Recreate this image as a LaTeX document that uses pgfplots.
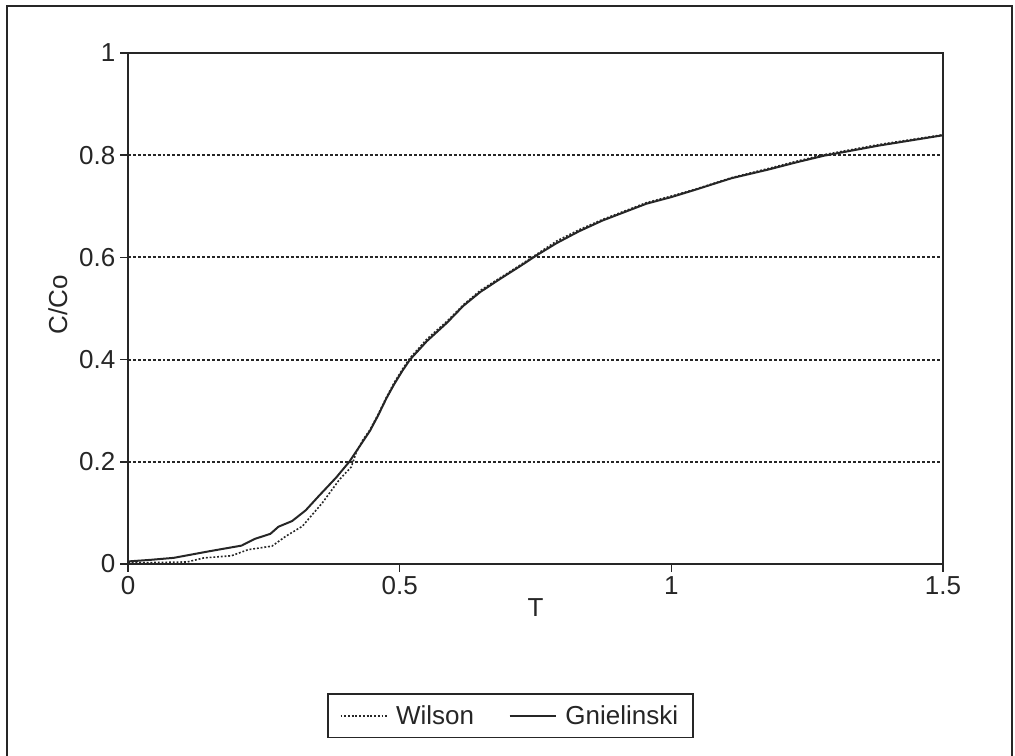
\documentclass[border=0pt]{standalone}
\usepackage{fontspec}
\setmainfont{Liberation Sans}
\usepackage{pgfplots}
\pgfplotsset{compat=1.18}

% Breakthrough curves, C/Co against T
\pgfplotstableread{
T      C
0      0.005
0.04   0.008
0.084  0.012
0.15   0.025
0.209  0.036
0.233  0.049
0.262  0.059
0.277  0.073
0.302  0.084
0.327  0.105
0.352  0.134
0.383  0.169
0.408  0.201
0.433  0.241
0.445  0.260
0.460  0.290
0.476  0.325
0.490  0.352
0.505  0.378
0.519  0.400
0.550  0.436
0.587  0.472
0.617  0.505
0.648  0.532
0.685  0.558
0.722  0.583
0.752  0.604
0.789  0.628
0.830  0.651
0.873  0.672
0.954  0.705
1.000  0.718
1.043  0.732
1.111  0.755
1.179  0.772
1.230  0.786
1.281  0.799
1.383  0.819
1.500  0.839
}\gnielinski

\pgfplotstableread{
T      C
0      0.002
0.109  0.004
0.140  0.012
0.190  0.016
0.221  0.028
0.265  0.035
0.290  0.054
0.321  0.074
0.358  0.120
0.389  0.165
0.411  0.190
0.420  0.218
0.433  0.244
0.445  0.262
0.460  0.292
0.476  0.327
0.490  0.355
0.505  0.381
0.519  0.403
0.550  0.440
0.587  0.475
0.617  0.507
0.648  0.535
0.685  0.560
0.722  0.585
0.752  0.606
0.789  0.632
0.830  0.654
0.873  0.674
0.954  0.707
1.000  0.720
1.043  0.733
1.111  0.756
1.179  0.774
1.230  0.788
1.281  0.801
1.383  0.821
1.500  0.840
}\wilson

\definecolor{ink}{gray}{0.15}

\begin{document}
\begin{tikzpicture}
\useasboundingbox (0,0) rectangle (761.25pt,567pt);
% outer frame
\draw[ink, line width=1.5pt] (5.25pt,-5pt) -- (5.25pt,562.5pt) -- (759pt,562.5pt) -- (759pt,-5pt);
\begin{axis}[
  at={(96pt,144pt)}, anchor=south west,
  width=611.25pt, height=383.25pt, scale only axis,
  xmin=0, xmax=1.5, ymin=0, ymax=1,
  xtick={0,0.5,1,1.5}, xticklabels={0,0.5,1,1.5},
  ytick={0,0.2,0.4,0.6,0.8,1}, yticklabels={0,0.2,0.4,0.6,0.8,1},
  tick pos=left, tick align=outside, major tick length=6pt,
  every tick/.style={ink, line width=1.2pt},
  axis line style={ink, line width=1.5pt},
  ymajorgrids,
  grid style={ink, line width=1.5pt, dash pattern=on 2.2pt off 1.5pt},
  font=\fontsize{19.5}{23}\selectfont,
  tick label style={ink},
  /pgf/number format/assume math mode=true,
  xlabel={T}, ylabel={C/Co},
  x label style={at={(axis description cs:0.5,-0.086)}, anchor=center, ink},
  y label style={at={(axis description cs:-0.086,0.507)}, anchor=center, rotate=0, ink},
  legend columns=2,
  legend style={at={(axis description cs:0.469,-0.297)}, anchor=center,
    draw=ink, line width=1.3pt, inner xsep=9pt, inner ysep=6.5pt,
    font=\fontsize{19.5}{23}\selectfont, text=ink,
    /tikz/every odd column/.append style={column sep=4pt},
    /tikz/every even column/.append style={column sep=24pt}},
  legend image code/.code={\draw[#1] (0pt,0pt) -- (35pt,0pt);},
]
\addplot[ink, line width=1.2pt, dash pattern=on 1.4pt off 1.4pt] table[x=T, y=C] {\wilson};
\addlegendentry{Wilson}
\addplot[ink, line width=1.5pt] table[x=T, y=C] {\gnielinski};
\addlegendentry{Gnielinski}
\end{axis}
\end{tikzpicture}
\end{document}
